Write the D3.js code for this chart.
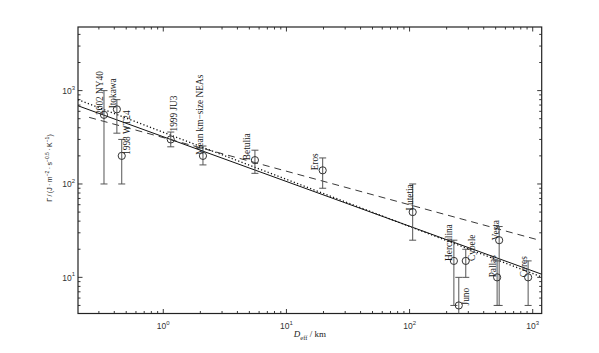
<!DOCTYPE html>
<html><head><meta charset="utf-8">
<script src="https://cdn.jsdelivr.net/npm/d3@7"></script>
<style>body{margin:0;background:#fff}svg{display:block}</style>
</head><body>
<script>
// ---- data ----
const names = ["2002 NY40","Itokawa","1998 WT24","1999 JU3","Mean km\u2212size NEAs","Betulia","Eros","Lutetia","Herculina","Juno","Cybele","Pallas","Vesta","Ceres"];
const diam  = [0.33, 0.42, 0.46, 1.15, 2.1, 5.55, 19.7, 106, 229, 251, 286, 514, 534, 918];
const gamma = [550, 630, 200, 300, 200, 180, 140, 50, 15, 5, 15, 10, 25, 10];
const gammaLo = [100, 350, 100, 250, 160, 130, 90, 25, 5, 2, 10, 5, 5, 5];
const gammaHi = [1000, 800, 300, 360, 255, 230, 190, 100, 25, 10, 20, 15, 35, 15];
// fitted lines (endpoints)
const solidD = [0.203, 1183], solidG = [688, 10.8];
const dottedD = [0.203, 1183], dottedG = [800, 10.1];
const dashedD = [0.25, 1070], dashedG = [517, 25.5];
const xTickVals = [1, 10, 100, 1000], xTickExp = ["0","1","2","3"];
const yTickVals = [10, 100, 1000], yTickExp = ["1","2","3"];
// label nudges [dx, dy] in px
const labelNudge = [[-1,0],[-1,-1],[8,-1],[6,-8],[0,-1],[-5,0],[-4.5,0],[0,-1.5],[-1.5,0],[10,0],[9,0],[-1,0],[0,0],[-1,0]];

const W = 599, H = 353;
const L = 78, R = 541.7, T = 27, B = 313.5;
const svg = d3.select("body").append("svg").attr("width", W).attr("height", H);
svg.append("rect").attr("width", W).attr("height", H).attr("fill", "#fff");

const x = d3.scaleLog().domain([0.203, 1183]).range([L, R]);
const y = d3.scaleLog().domain([4.1, 4800]).range([B, T]);

svg.append("defs").append("clipPath").attr("id", "clip")
  .append("rect").attr("x", L).attr("y", T).attr("width", R - L).attr("height", B - T);

const frameCol = "#222";
function minors(domain) {
  const out = [];
  for (let e = -2; e <= 4; e++) for (let m = 2; m <= 9; m++) {
    const v = m * Math.pow(10, e);
    if (v >= domain[0] && v <= domain[1]) out.push(v);
  }
  return out;
}
const xMin = minors(x.domain()), yMin = minors(y.domain());
const axG = svg.append("g").attr("stroke", frameCol).attr("stroke-width", 0.9);
xMin.forEach(v => {
  axG.append("line").attr("x1", x(v)).attr("x2", x(v)).attr("y1", B).attr("y2", B - 2.5);
  axG.append("line").attr("x1", x(v)).attr("x2", x(v)).attr("y1", T).attr("y2", T + 2.5);
});
xTickVals.forEach(v => {
  axG.append("line").attr("x1", x(v)).attr("x2", x(v)).attr("y1", B).attr("y2", B - 4.5);
  axG.append("line").attr("x1", x(v)).attr("x2", x(v)).attr("y1", T).attr("y2", T + 4.5);
});
yMin.forEach(v => {
  axG.append("line").attr("y1", y(v)).attr("y2", y(v)).attr("x1", L).attr("x2", L + 2.5);
  axG.append("line").attr("y1", y(v)).attr("y2", y(v)).attr("x1", R).attr("x2", R - 2.5);
});
yTickVals.forEach(v => {
  axG.append("line").attr("y1", y(v)).attr("y2", y(v)).attr("x1", L).attr("x2", L + 4.5);
  axG.append("line").attr("y1", y(v)).attr("y2", y(v)).attr("x1", R).attr("x2", R - 4.5);
});
svg.append("rect").attr("x", L).attr("y", T).attr("width", R - L).attr("height", B - T)
  .attr("fill", "none").attr("stroke", frameCol).attr("stroke-width", 1.2);

const tickFont = "'Liberation Sans', Arial, sans-serif";
xTickVals.forEach((v, i) => {
  const t = svg.append("text").attr("x", x(v)).attr("y", B + 15.5)
    .attr("text-anchor", "middle").attr("font-family", tickFont).attr("font-size", 8.5).attr("fill", "#333");
  t.append("tspan").text("10");
  t.append("tspan").attr("dy", -4.5).attr("font-size", 6).text(xTickExp[i]);
});
yTickVals.forEach((v, i) => {
  const t = svg.append("text").attr("x", L - 3).attr("y", y(v) + 3.5)
    .attr("text-anchor", "end").attr("font-family", tickFont).attr("font-size", 8.5).attr("fill", "#333");
  t.append("tspan").text("10");
  t.append("tspan").attr("dy", -4.5).attr("font-size", 6).text(yTickExp[i]);
});

const xl = svg.append("text").attr("x", (L + R) / 2).attr("y", 337)
  .attr("text-anchor", "middle").attr("font-family", "'Liberation Serif', 'Times New Roman', serif")
  .attr("font-size", 9).attr("fill", "#222");
xl.append("tspan").attr("font-style", "italic").text("D");
xl.append("tspan").attr("dy", 2.5).attr("font-size", 6.5).text("eff");
xl.append("tspan").attr("dy", -2.5).text(" / km");

const ts = "\u2009";
const yl = svg.append("text").attr("transform", `translate(52,168) rotate(-90)`)
  .attr("text-anchor", "middle").attr("font-family", tickFont).attr("font-size", 7).attr("fill", "#222");
yl.append("tspan").text(`\u0393${ts}/${ts}(J${ts}\u00b7${ts}m`);
yl.append("tspan").attr("dy", -3).attr("font-size", 5).text("\u22122");
yl.append("tspan").attr("dy", 3).text(`${ts}\u00b7${ts}s`);
yl.append("tspan").attr("dy", -3).attr("font-size", 5).text("\u22120.5");
yl.append("tspan").attr("dy", 3).text(`${ts}\u00b7${ts}K`);
yl.append("tspan").attr("dy", -3).attr("font-size", 5).text("\u22121");
yl.append("tspan").attr("dy", 3).text(")");

const plot = svg.append("g").attr("clip-path", "url(#clip)");
const line = d3.line().x(d => x(d[0])).y(d => y(d[1]));
plot.append("path").datum(d3.zip(solidD, solidG)).attr("d", line)
  .attr("fill", "none").attr("stroke", "#111").attr("stroke-width", 1);
plot.append("path").datum(d3.zip(dottedD, dottedG)).attr("d", line)
  .attr("fill", "none").attr("stroke", "#111").attr("stroke-width", 1.2).attr("stroke-dasharray", "1.2,2.3");
plot.append("path").datum(d3.zip(dashedD, dashedG)).attr("d", line)
  .attr("fill", "none").attr("stroke", "#222").attr("stroke-width", 0.9).attr("stroke-dasharray", "7,5");

const errCol = "#555";
const cap = 3.5;
diam.forEach((d, i) => {
  const g = plot.append("g").attr("stroke", errCol).attr("stroke-width", 1);
  g.append("line").attr("x1", x(d)).attr("x2", x(d)).attr("y1", y(gammaLo[i])).attr("y2", y(gammaHi[i]));
  g.append("line").attr("x1", x(d) - cap).attr("x2", x(d) + cap).attr("y1", y(gammaLo[i])).attr("y2", y(gammaLo[i]));
  g.append("line").attr("x1", x(d) - cap).attr("x2", x(d) + cap).attr("y1", y(gammaHi[i])).attr("y2", y(gammaHi[i]));
});
plot.selectAll("circle.pt").data(diam).enter().append("circle")
  .attr("cx", d => x(d)).attr("cy", (d, i) => y(gamma[i])).attr("r", 3.6)
  .attr("fill", "none").attr("stroke", "#333").attr("stroke-width", 1);

svg.selectAll("text.lab").data(names).enter().append("text").attr("class", "lab")
  .attr("transform", (d, i) => `translate(${x(diam[i]) + labelNudge[i][0]},${y(gamma[i]) + labelNudge[i][1]}) rotate(-90)`)
  .attr("font-family", "'Liberation Serif', 'Times New Roman', serif").attr("font-size", 9.3)
  .attr("fill", "#1a1a1a").text(d => d);
</script>
</body></html>
